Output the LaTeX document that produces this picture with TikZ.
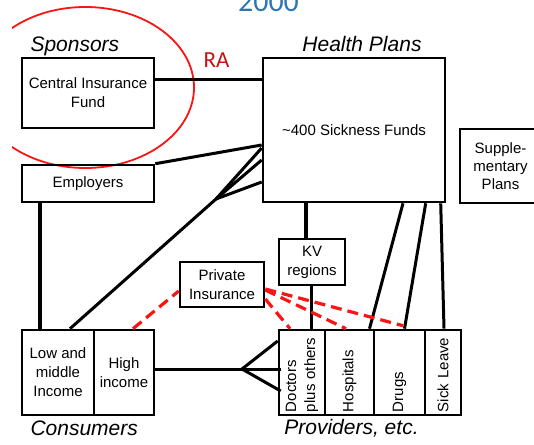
\documentclass[tikz,border=0pt]{standalone}
\usepackage{fontspec}
\setmainfont{Liberation Sans}
\newfontfamily\calib{Carlito}
\usetikzlibrary{calc}
\definecolor{titleblue}{RGB}{46,117,182}
\definecolor{radred}{RGB}{200,16,16}
\definecolor{dashred}{RGB}{250,20,20}
\begin{document}
\begin{tikzpicture}[x=1pt,y=-1pt,
  box/.style={draw, line width=2.6pt, inner sep=0pt, align=center, font=\fontsize{15}{19}\selectfont},
  conn/.style={line width=3pt},
  heavy/.style={line width=3.8pt},
  pdash/.style={draw=dashred, line width=3.2pt, dash pattern=on 11pt off 6pt},
  heading/.style={font=\fontsize{21}{25}\selectfont\itshape},
  prov/.style={box, rotate=90, minimum height=46pt, text width=79pt, inner xsep=3pt, inner ysep=0pt, align=left}
]
\useasboundingbox (0,0) rectangle (534,444);

% title and labels
\node[font=\calib\fontsize{30}{34}\selectfont, text=titleblue, anchor=base] (yr) at (268.5,12) {2000};
\node[heading, anchor=base west] (spons) at (27,52) {Sponsors};
\node[heading, anchor=base] (hplans) at (362,52) {Health Plans};
\node[heading, anchor=base west] (cons) at (27,435) {Consumers};
\node[heading, anchor=base] (provs) at (351.5,434) {Providers, etc.};
\node[font=\calib\fontsize{23}{27}\selectfont, text=radred, anchor=base] (ra) at (216.5,67) {RA};

% red ellipse
\begin{scope}
  \clip (12,-20) rectangle (560,470);
  \draw[dashred, line width=1.8pt] (85.3,87.5) ellipse [x radius=108.7, y radius=80.5];
\end{scope}

% boxes
\node[box, minimum width=132pt, minimum height=70pt] (cif) at (88,93) {Central Insurance\\Fund};
\node[box, minimum width=182pt, minimum height=144pt] (sf) at (354,130) {\textasciitilde400 Sickness Funds};
\node[box, minimum width=81pt, minimum height=74pt, font=\fontsize{15}{18.3}\selectfont] (sup) at (500.5,166) {Supple-\\mentary\\Plans};
\node[box, minimum width=132pt, minimum height=37pt] (emp) at (88,183.5) {Employers};
\node[box, minimum width=66pt, minimum height=46pt] (kv) at (312,262) {KV\\regions};
\node[box, minimum width=84pt, minimum height=45pt] (pi) at (222,284.5) {Private\\Insurance};
\node[box, minimum width=72pt, minimum height=85pt] (low) at (58,372.5) {Low and\\middle\\Income};
\node[box, minimum width=60pt, minimum height=85pt] (high) at (124,372.5) {High\\income};
\node[prov, minimum height=46pt] (doc) at (302,372.5) {Doctors\\plus others};
\node[prov, minimum height=49pt] (hos) at (349.5,372.5) {Hospitals};
\node[prov, minimum height=51pt] (drg) at (399.5,372.5) {Drugs};
\node[prov, minimum height=36pt] (sck) at (443,372.5) {Sick Leave};

% black connectors
\draw[conn] (cif.east |- 0,79) -- (sf.west |- 0,79);
\draw[conn] (emp.north east) -- (sf.west |- 0,145);
\coordinate (f1) at (216,199);
\draw[conn] (low.north -| 70,0) -- (f1) -- (sf.west |- 0,148);
\draw[conn] (f1) -- (sf.west |- 0,160);
\draw[conn] (f1) -- (sf.west |- 0,182);
\draw[heavy] (emp.south -| 40,0) -- (low.north -| 40,0);
\draw[heavy] (sf.south -| 306,0) -- (kv.north -| 306,0);
\draw[conn] (kv.south -| 311,0) -- (doc.east -| 311,0);
\draw[conn] (sf.south -| 403,0) -- (hos.east -| 369.5,0);
\draw[conn] (sf.south -| 425.7,0) -- (drg.east -| 404.5,0);
\draw[conn] (sf.south -| 440.7,0) -- (sck.east -| 444,0);
\coordinate (f2) at (242,369);
\draw[conn] (high.east |- 0,369) -- (f2);
\draw[conn] (f2) -- (doc.north |- 0,341);
\draw[conn] (f2) -- ($(doc.north |- 0,369)+(3,0)$);
\draw[conn] (f2) -- ($(doc.north |- 0,391)+(3,0)$);

% red dashed connectors
\draw[pdash] (high.north -| 133,0) -- (pi.west |- 0,291);
\draw[pdash] (pi.east |- 0,299) -- (doc.east -| 290,0);
\draw[pdash] (pi.east |- 0,290) -- (hos.east -| 346,0);
\draw[pdash] (pi.east |- 0,289) -- ($(drg.east -| 403,0)+(0,-3)$);
\end{tikzpicture}
\end{document}
